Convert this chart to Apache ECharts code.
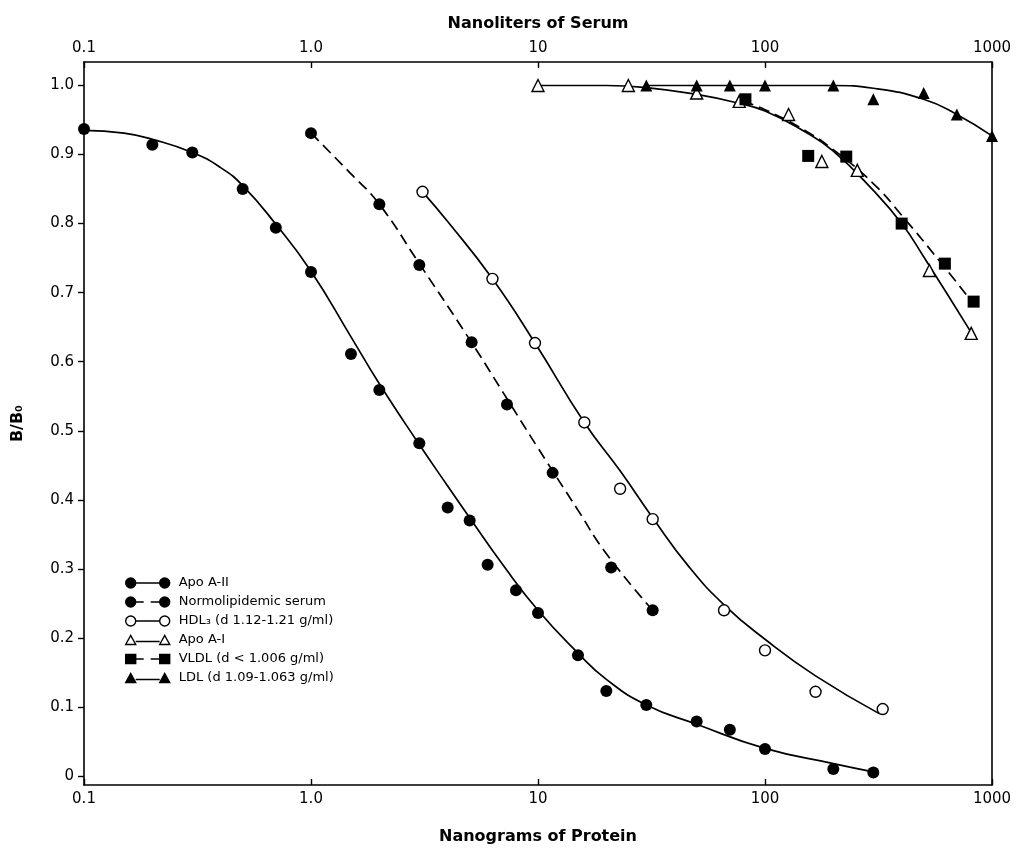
<!DOCTYPE html>
<html>
<head>
<meta charset="utf-8">
<title>B/B0 vs Nanograms of Protein</title>
<script src="https://cdn.jsdelivr.net/npm/echarts@6.0.0/dist/echarts.min.js"></script>
<style>
  html, body { margin: 0; padding: 0; background: #fff; }
  #chart { width: 1029px; height: 850px; }
</style>
</head>
<body>
<div id="chart"></div>
<script>
// tick labels
var xTickLabels = ['0.1', '1.0', '10', '100', '1000'];
var yTickValues = [0, 0.1, 0.2, 0.3, 0.4, 0.5, 0.6, 0.7, 0.8, 0.9, 1.0];
var yTickLabels = ['0', '0.1', '0.2', '0.3', '0.4', '0.5', '0.6', '0.7', '0.8', '0.9', '1.0'];

// measured points (x = ng protein, y = B/Bo)
var apoA2X = [0.1, 0.2, 0.3, 0.5, 0.7, 1, 1.5, 2, 3, 4, 5, 6, 8, 10, 15, 20, 30, 50, 70, 100, 200, 300];
var apoA2Y = [0.937, 0.914, 0.903, 0.85, 0.794, 0.73, 0.611, 0.559, 0.482, 0.389, 0.37, 0.306, 0.269, 0.236, 0.175, 0.123, 0.103, 0.079, 0.067, 0.039, 0.01, 0.005];
var serumX = [1, 2, 3, 5.1, 7.3, 11.6, 21, 32];
var serumY = [0.931, 0.828, 0.74, 0.628, 0.538, 0.439, 0.302, 0.24];
var hdlX = [3.1, 6.3, 9.7, 16, 23, 32, 66, 100, 167, 330];
var hdlY = [0.846, 0.72, 0.627, 0.512, 0.416, 0.372, 0.24, 0.182, 0.122, 0.097];
var apoA1X = [10, 25, 50, 77, 127, 178, 255, 530, 810];
var apoA1Y = [1.0, 1.0, 0.989, 0.977, 0.958, 0.89, 0.877, 0.732, 0.641];
var vldlX = [82, 155, 228, 400, 620, 830];
var vldlY = [0.98, 0.898, 0.897, 0.80, 0.742, 0.687];
var ldlX = [30, 50, 70, 100, 200, 300, 500, 700, 1000];
var ldlY = [1.0, 1.0, 1.0, 1.0, 1.0, 0.98, 0.989, 0.958, 0.927];

// fitted curves
var apoA2FitX = [0.1, 0.15, 0.2, 0.3, 0.4, 0.5, 0.7, 1, 1.5, 2, 3, 4, 5, 7, 10, 15, 20, 30, 50, 100, 200, 300];
var apoA2FitY = [0.935, 0.931, 0.922, 0.903, 0.881, 0.855, 0.799, 0.731, 0.636, 0.568, 0.48, 0.42, 0.374, 0.306, 0.24, 0.178, 0.14, 0.103, 0.075, 0.04, 0.018, 0.006];
var serumFitX = [1, 1.5, 2, 3, 5, 7, 10, 15, 20, 32];
var serumFitY = [0.931, 0.872, 0.828, 0.742, 0.632, 0.556, 0.475, 0.385, 0.322, 0.24];
var hdlFitX = [3.1, 4, 6.3, 9.7, 16, 23, 32, 46, 66, 100, 167, 320];
var hdlFitY = [0.846, 0.803, 0.72, 0.627, 0.512, 0.442, 0.374, 0.304, 0.248, 0.198, 0.145, 0.09];
var apoA1FitX = [10, 20, 30, 50, 75, 100, 150, 200, 300, 400, 500, 800];
var apoA1FitY = [1.0, 1.0, 0.997, 0.987, 0.975, 0.963, 0.933, 0.905, 0.848, 0.8, 0.752, 0.645];
var vldlFitX = [80, 100, 150, 200, 300, 400, 600, 800];
var vldlFitY = [0.977, 0.965, 0.935, 0.907, 0.858, 0.812, 0.742, 0.69];
var ldlFitX = [30, 100, 200, 300, 500, 700, 1000];
var ldlFitY = [1.0, 1.0, 1.0, 0.996, 0.98, 0.958, 0.927];

var FONT = '"DejaVu Sans", sans-serif';

function pairs(xs, ys) {
  return xs.map(function (x, i) { return [x, ys[i]]; });
}

// legend icons: marker - line - marker
var icCircle = 'path://M0,5A5,5,0,1,1,10,5A5,5,0,1,1,0,5Z M10,5L34,5 M34,5A5,5,0,1,1,44,5A5,5,0,1,1,34,5Z';
var icCircleDash = 'path://M0,5A5,5,0,1,1,10,5A5,5,0,1,1,0,5Z M10,5L18,5 M25,5L34,5 M34,5A5,5,0,1,1,44,5A5,5,0,1,1,34,5Z';
var icTri = 'path://M0,10L5,1L10,10Z M10,7L34,7 M34,10L39,1L44,10Z';
var icSqDash = 'path://M0,0.5H10V9.5H0Z M10,5L18,5 M25,5L34,5 M34,0.5H44V9.5H34Z';

var defs = [
  { name: 'Apo A-II', x: apoA2X, y: apoA2Y, fx: apoA2FitX, fy: apoA2FitY, symbol: 'circle', size: 12, open: false, dash: false, icon: icCircle },
  { name: 'Normolipidemic serum', x: serumX, y: serumY, fx: serumFitX, fy: serumFitY, symbol: 'circle', size: 12, open: false, dash: true, icon: icCircleDash },
  { name: 'HDL₃ (d 1.12-1.21 g/ml)', x: hdlX, y: hdlY, fx: hdlFitX, fy: hdlFitY, symbol: 'circle', size: 11, open: true, dash: false, icon: icCircle },
  { name: 'Apo A-I', x: apoA1X, y: apoA1Y, fx: apoA1FitX, fy: apoA1FitY, symbol: 'triangle', size: 12, open: true, dash: false, icon: icTri },
  { name: 'VLDL (d < 1.006 g/ml)', x: vldlX, y: vldlY, fx: vldlFitX, fy: vldlFitY, symbol: 'rect', size: 12, open: false, dash: true, icon: icSqDash },
  { name: 'LDL (d 1.09-1.063 g/ml)', x: ldlX, y: ldlY, fx: ldlFitX, fy: ldlFitY, symbol: 'triangle', size: 12, open: false, dash: false, icon: icTri }
];

var series = [];
var legendData = [];
defs.forEach(function (d) {
  var style = d.open
    ? { color: '#fff', borderColor: '#000', borderWidth: 1.4, opacity: 1 }
    : { color: '#000', borderColor: '#000', borderWidth: 0, opacity: 1 };
  // points first so the legend takes its icon from them
  series.push({
    name: d.name,
    type: 'scatter',
    data: pairs(d.x, d.y),
    symbol: d.symbol,
    symbolSize: d.size,
    itemStyle: style,
    z: 4,
    silent: true
  });
  series.push({
    name: d.name,
    type: 'line',
    data: pairs(d.fx, d.fy),
    smooth: 0.5,
    symbol: 'none',
    lineStyle: { color: '#000', width: 1.7, type: d.dash ? [11, 6] : 'solid' },
    z: 2,
    silent: true
  });
  legendData.push({
    name: d.name,
    icon: d.icon,
    itemStyle: { color: d.open ? '#fff' : '#000', borderColor: '#000', borderWidth: 1.4, opacity: 1 }
  });
});

function xLabel(v) {
  var i = Math.round(Math.log(v) / Math.LN10) + 1;
  return xTickLabels[i] || '';
}
function yLabel(v) {
  for (var i = 0; i < yTickValues.length; i++) {
    if (Math.abs(yTickValues[i] - v) < 1e-6) return yTickLabels[i];
  }
  return '';
}

var axisLine = { show: true, onZero: false, lineStyle: { color: '#000', width: 1.6 } };
var labelStyle = { color: '#000', fontSize: 15, fontFamily: FONT };
var nameStyle = { color: '#000', fontSize: 16, fontWeight: 'bold', fontFamily: FONT };

var myChart = echarts.init(document.getElementById('chart'));
myChart.setOption({
  animation: false,
  backgroundColor: '#fff',
  grid: { left: 84, right: 37, top: 62, bottom: 56 },
  legend: {
    orient: 'vertical',
    left: 120,
    top: 570,
    itemWidth: 44,
    itemHeight: 10,
    itemGap: 3,
    selectedMode: false,
    data: legendData,
    textStyle: { color: '#000', fontSize: 13, fontFamily: FONT, lineHeight: 16, padding: [0, 0, 0, 4] }
  },
  xAxis: [
    {
      type: 'log',
      logBase: 10,
      min: 0.1,
      max: 1000,
      position: 'bottom',
      name: 'Nanograms of Protein',
      nameLocation: 'middle',
      nameGap: 44,
      nameTextStyle: nameStyle,
      axisLine: axisLine,
      axisTick: { show: true, inside: true, length: 6, lineStyle: { color: '#000', width: 1.4 } },
      axisLabel: Object.assign({ margin: 7, formatter: xLabel }, labelStyle),
      splitLine: { show: false },
      minorTick: { show: false }
    },
    {
      type: 'log',
      logBase: 10,
      min: 0.1,
      max: 1000,
      position: 'top',
      name: 'Nanoliters of Serum',
      nameLocation: 'middle',
      nameGap: 30,
      nameTextStyle: nameStyle,
      axisLine: axisLine,
      axisTick: { show: true, inside: true, length: 6, lineStyle: { color: '#000', width: 1.4 } },
      axisLabel: Object.assign({ margin: 6, formatter: xLabel }, labelStyle),
      splitLine: { show: false }
    }
  ],
  yAxis: [
    {
      type: 'value',
      min: -0.013,
      max: 1.034,
      position: 'left',
      name: 'B/B₀',
      nameLocation: 'middle',
      nameGap: 58,
      nameRotate: 90,
      nameTextStyle: nameStyle,
      axisLine: axisLine,
      axisTick: { show: true, length: 6, customValues: yTickValues, lineStyle: { color: '#000', width: 1.4 } },
      axisLabel: Object.assign({ margin: 10, customValues: yTickValues, formatter: yLabel }, labelStyle),
      splitLine: { show: false }
    },
    {
      type: 'value',
      min: -0.013,
      max: 1.034,
      position: 'right',
      axisLine: axisLine,
      axisTick: { show: false },
      axisLabel: { show: false },
      splitLine: { show: false }
    }
  ],
  series: series
});
</script>
</body>
</html>
